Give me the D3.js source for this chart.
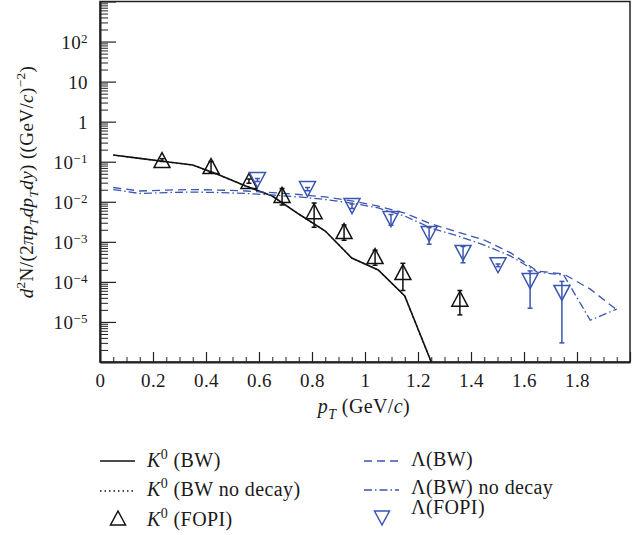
<!DOCTYPE html>
<html>
<head>
<meta charset="utf-8">
<script src="https://cdn.jsdelivr.net/npm/d3@7"></script>
<style>
	body { margin: 0; background: #fff; }
	svg text { font-family: "Liberation Serif", "DejaVu Serif", serif; fill: #1a1a1a; letter-spacing: 0.4px; }
	.axis path, .axis line { stroke: #222; }
</style>
</head>
<body>
<div id="content"></div>
<script>

	var width = 637,
	    height = 535;

	var blue = "#3a56b0";
	var fs = 19;      // tick labels, y title
	var fsTitle = 20; // x title and legend

	// K0 (FOPI) data points
	var k0Pt  = [0.234, 0.419, 0.562, 0.687, 0.808, 0.921, 1.038, 1.143, 1.358];
	var k0Val = [0.110, 0.078, 0.033, 0.0148, 0.0058, 1.86e-3, 4.4e-4, 1.76e-4, 3.8e-5];
	var k0Err = [0.008, 0.024, 0.004, 6.5e-3, 3.5e-3, 7.6e-4, 1.8e-4, 1.15e-4, 2.3e-5];

	// Lambda (FOPI) data points
	var lamPt  = [0.594, 0.783, 0.951, 1.098, 1.242, 1.370, 1.502, 1.623, 1.743];
	var lamVal = [0.035, 0.0208, 7.8e-3, 3.7e-3, 1.57e-3, 5.3e-4, 2.6e-4, 1.05e-4, 5.3e-5];
	var lamErr = [0.003, 0.002, 1.0e-3, 1.1e-3, 7.0e-4, 2.3e-4, 2.0e-5, 8.3e-5, 5.0e-5];

	// blast wave curves
	var k0BwPt = [0.05, 0.15, 0.25, 0.35, 0.45, 0.55, 0.65, 0.75, 0.85, 0.95, 1.05, 1.15, 1.25];
	var k0Bw        = [0.147, 0.121, 0.100, 0.0828, 0.0466, 0.0247, 0.0139, 4.94e-3, 1.86e-3, 3.94e-4, 1.98e-4, 4.43e-5, 1.0e-6];
	var k0BwNoDecay = [0.147, 0.121, 0.100, 0.0828, 0.0466, 0.0247, 0.0139, 4.94e-3, 1.86e-3, 3.94e-4, 1.98e-4, 4.43e-5, 1.0e-6];

	var lamBwPt = [0.05, 0.15, 0.25, 0.35, 0.45, 0.55, 0.65, 0.75, 0.85, 0.95,
	               1.05, 1.15, 1.25, 1.35, 1.45, 1.55, 1.65, 1.75, 1.85, 1.95];
	var lamBw = [0.0227, 0.0186, 0.0196, 0.0202, 0.0196, 0.0186, 0.0170, 0.0152, 0.0132, 0.0105,
	             7.8e-3, 5.2e-3, 2.8e-3, 1.76e-3, 1.11e-3, 5.3e-4, 1.87e-4, 1.57e-4, 6.6e-5, 2.0e-5];
	var lamBwNoDecay = [0.0202, 0.0161, 0.0170, 0.0175, 0.0170, 0.0161, 0.0148, 0.0132, 0.0114, 9.3e-3,
	                    7.0e-3, 4.4e-3, 2.2e-3, 1.40e-3, 8.3e-4, 4.4e-4, 1.76e-4, 1.48e-4, 1.1e-5, 2.1e-5];

	// axis ticks
	var xMajor = [0, 0.2, 0.4, 0.6, 0.8, 1, 1.2, 1.4, 1.6, 1.8, 2];
	var xLabels = ["0", "0.2", "0.4", "0.6", "0.8", "1", "1.2", "1.4", "1.6", "1.8", ""];
	var yDecades = [1e-6, 1e-5, 1e-4, 1e-3, 1e-2, 1e-1, 1, 10, 1e2, 1e3];
	// labels by exponent: [base, superscript]
	var yLabels = {"-5": ["10", "−5"], "-4": ["10", "−4"], "-3": ["10", "−3"], "-2": ["10", "−2"],
	               "-1": ["10", "−1"], "0": ["1", ""], "1": ["10", ""], "2": ["10", "2"]};

	var svg = d3.select("#content").append("svg")
	    .attr("width", width).attr("height", height);

	var x = d3.scaleLinear().domain([0, 2]).range([100, 630]);
	var y = d3.scaleLog().domain([1e-6, 1e3]).range([362, 1.5]);

	// rich text helper: parts = [text, italic, shift]  shift: 0 / "sup" / "sub"
	function richText(sel, parts, size) {
	  var cur = 0;
	  parts.forEach(function(p) {
	    var target = p[2] == "sup" ? -0.42 * size : (p[2] == "sub" ? 0.28 * size : 0);
	    var t = sel.append("tspan")
	        .text(p[0])
	        .attr("dy", target - cur)
	        .style("font-style", p[1] ? "italic" : "normal");
	    if (p[2]) t.style("font-size", (size * 0.7) + "px");
	    cur = target;
	  });
	}

	svg.append("defs").append("clipPath").attr("id", "plotclip")
	  .append("rect").attr("x", 100).attr("y", 1.5).attr("width", 530).attr("height", 360.5);

	// frame
	svg.append("rect")
	    .attr("x", 100).attr("y", 1.5).attr("width", 530).attr("height", 360.5)
	    .attr("fill", "none").attr("stroke", "#222").attr("stroke-width", 1.5);

	// x axis
	var xMinor = d3.range(0, 2.001, 0.05).filter(function(v) { return Math.abs(v / 0.2 - Math.round(v / 0.2)) > 1e-6; });
	svg.append("g").attr("class", "axis")
	    .attr("transform", "translate(0,362)")
	    .call(d3.axisBottom(x).tickValues(xMinor).tickSize(-5).tickFormat(""))
	    .call(function(g) { g.select(".domain").remove(); });
	svg.append("g").attr("class", "axis")
	    .attr("transform", "translate(0,362)")
	    .call(d3.axisBottom(x).tickValues(xMajor).tickSize(-10).tickPadding(12).tickSizeOuter(0)
	      .tickFormat(function(d, i) { return xLabels[i]; }))
	    .call(function(g) {
	      g.select(".domain").attr("stroke-width", 2);
	      g.selectAll(".tick line").attr("stroke-width", 1.2);
	      g.selectAll(".tick text").style("font-size", fs + "px").attr("fill", "#1a1a1a");
	    });

	// y axis
	var yMinor = [];
	yDecades.slice(0, -1).forEach(function(d) {
	  for (var k = 2; k <= 9; k++) yMinor.push(d * k);
	});
	svg.append("g").attr("class", "axis")
	    .attr("transform", "translate(100,0)")
	    .call(d3.axisLeft(y).tickValues(yMinor).tickSize(-8).tickFormat(""))
	    .call(function(g) { g.select(".domain").remove(); });
	svg.append("g").attr("class", "axis")
	    .attr("transform", "translate(100,0)")
	    .call(d3.axisLeft(y).tickValues(yDecades).tickSize(-16).tickPadding(12).tickSizeOuter(0).tickFormat(""))
	    .call(function(g) {
	      g.select(".domain").attr("stroke-width", 2);
	      g.selectAll(".tick line").attr("stroke-width", 1.2);
	      g.selectAll(".tick").each(function(d) {
	        var lab = yLabels[String(Math.round(Math.log10(d)))];
	        if (!lab) return;
	        var t = d3.select(this).select("text")
	            .style("font-size", fs + "px").attr("fill", "#1a1a1a").attr("dy", "0.34em");
	        t.append("tspan").text(lab[0]);
	        if (lab[1]) t.append("tspan").text(lab[1]).attr("dy", "-0.45em").style("font-size", "13px");
	      });
	    });

	// axis titles
	var xTitle = svg.append("text")
	    .attr("x", 364).attr("y", 413).attr("text-anchor", "middle")
	    .style("font-size", fsTitle + "px");
	richText(xTitle, [["p", true, 0], ["T", true, "sub"], [" (GeV/", false, 0], ["c", true, 0], [")", false, 0]], fsTitle);

	var yTitle = svg.append("text")
	    .attr("transform", "translate(33,182) rotate(-90)")
	    .attr("text-anchor", "middle")
	    .style("font-size", fs + "px");
	richText(yTitle, [["d", true, 0], ["2", false, "sup"], ["N/(2", false, 0], ["π", true, 0], ["p", true, 0],
	                  ["T", true, "sub"], ["dp", true, 0], ["T", true, "sub"], ["dy", true, 0],
	                  [") ((GeV/", false, 0], ["c", true, 0], [")", false, 0], ["−2", false, "sup"], [")", false, 0]], fs);

	// curves
	var line = d3.line()
	    .x(function(d) { return x(d[0]); })
	    .y(function(d) { return y(d[1]); });

	var curves = [
	  {pt: k0BwPt, val: k0BwNoDecay, color: "#111", dash: "1.5,3", w: 1.3},
	  {pt: k0BwPt, val: k0Bw, color: "#111", dash: null, w: 1.6},
	  {pt: lamBwPt, val: lamBw, color: blue, dash: "8,5", w: 1.3},
	  {pt: lamBwPt, val: lamBwNoDecay, color: blue, dash: "8,3,1.5,3", w: 1.3}
	];

	var plot = svg.append("g").attr("clip-path", "url(#plotclip)");

	plot.selectAll("path.curve")
	    .data(curves)
	    .enter().append("path")
	      .attr("class", "curve")
	      .attr("d", function(c) { return line(c.pt.map(function(p, i) { return [p, c.val[i]]; })); })
	      .attr("fill", "none")
	      .attr("stroke", function(c) { return c.color; })
	      .attr("stroke-width", function(c) { return c.w; })
	      .attr("stroke-dasharray", function(c) { return c.dash; });

	// markers
	function tri(w, h, up) {
	  var p = d3.path();
	  if (up) { p.moveTo(0, -h / 2); p.lineTo(w / 2, h / 2); p.lineTo(-w / 2, h / 2); }
	  else { p.moveTo(0, h / 2); p.lineTo(w / 2, -h / 2); p.lineTo(-w / 2, -h / 2); }
	  p.closePath();
	  return p.toString();
	}

	function drawSeries(pts, vals, errs, color, up) {
	  var data = pts.map(function(p, i) { return {x: p, v: vals[i], e: errs[i]}; });
	  var g = plot.append("g").selectAll("g").data(data).enter().append("g")
	      .attr("transform", function(d) { return "translate(" + x(d.x) + "," + y(d.v) + ")"; });
	  g.append("line")
	      .attr("x1", 0).attr("x2", 0)
	      .attr("y1", function(d) { return y(d.v + d.e) - y(d.v); })
	      .attr("y2", function(d) { return y(Math.max(d.v - d.e, 1e-7)) - y(d.v); })
	      .attr("stroke", color).attr("stroke-width", 1.5);
	  [function(d) { return y(d.v + d.e) - y(d.v); },
	   function(d) { return y(Math.max(d.v - d.e, 1e-7)) - y(d.v); }].forEach(function(f) {
	    g.append("line")
	        .attr("x1", -2.5).attr("x2", 2.5)
	        .attr("y1", f).attr("y2", f)
	        .attr("stroke", color).attr("stroke-width", 1.5);
	  });
	  g.append("path")
	      .attr("d", tri(16, 15, up))
	      .attr("fill", "#fff").attr("fill-opacity", 0)
	      .attr("stroke", color).attr("stroke-width", 1.5);
	}

	drawSeries(k0Pt, k0Val, k0Err, "#111", true);
	drawSeries(lamPt, lamVal, lamErr, blue, false);

	// legend
	var legend = [
	  {x: 100, y: 461, ty: 467, kind: "line", color: "#111", dash: null, label: [["K", true, 0], ["0", false, "sup"], [" (BW)", false, 0]]},
	  {x: 100, y: 491, ty: 496, kind: "line", color: "#111", dash: "1.5,3", label: [["K", true, 0], ["0", false, "sup"], [" (BW no decay)", false, 0]]},
	  {x: 100, y: 518, ty: 526, kind: "up", color: "#111", label: [["K", true, 0], ["0", false, "sup"], [" (FOPI)", false, 0]]},
	  {x: 364, y: 461, ty: 466, kind: "line", color: blue, dash: "8,5", label: [["Λ(BW)", false, 0]]},
	  {x: 364, y: 490, ty: 494, kind: "line", color: blue, dash: "8,3,1.5,3", label: [["Λ(BW) no decay", false, 0]]},
	  {x: 364, y: 518, ty: 514, kind: "down", color: blue, label: [["Λ(FOPI)", false, 0]]}
	];

	legend.forEach(function(l) {
	  if (l.kind == "line") {
	    svg.append("line")
	        .attr("x1", l.x).attr("x2", l.x + 35).attr("y1", l.y).attr("y2", l.y)
	        .attr("stroke", l.color).attr("stroke-width", l.dash ? 1.3 : 1.6)
	        .attr("stroke-dasharray", l.dash);
	  } else {
	    svg.append("path")
	        .attr("transform", "translate(" + (l.x + 18) + "," + l.y + ")")
	        .attr("d", tri(15, 14, l.kind == "up"))
	        .attr("fill", "none").attr("stroke", l.color).attr("stroke-width", 1.5);
	  }
	  var t = svg.append("text")
	      .attr("x", l.x + 47).attr("y", l.ty)
	      .style("font-size", fsTitle + "px");
	  richText(t, l.label, fsTitle);
	});

</script>
</body>
</html>
